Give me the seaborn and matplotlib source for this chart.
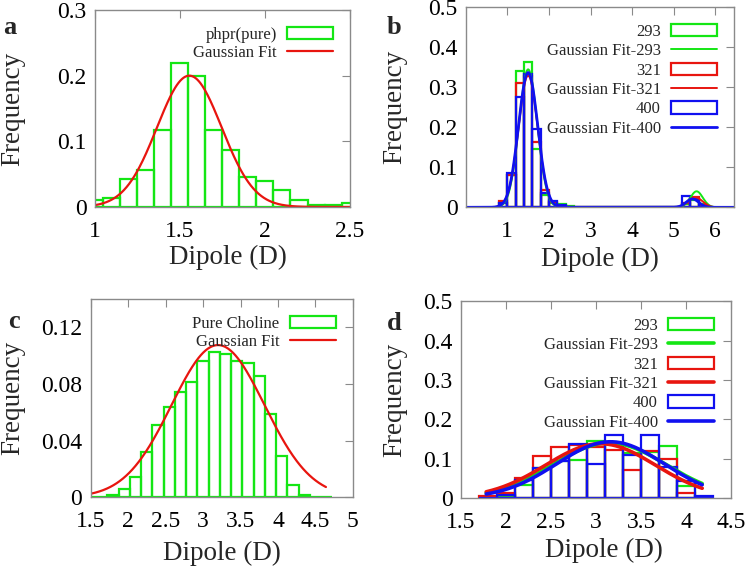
import numpy as np
import pandas as pd
import matplotlib
matplotlib.use("Agg")
import matplotlib.pyplot as plt
import seaborn as sns
from matplotlib.patches import Patch
from matplotlib.lines import Line2D
from matplotlib.ticker import FuncFormatter

# ==========================================================
# DATA
# ==========================================================

# panel a : phpr(pure)
a_centers = [1.0, 1.1, 1.2, 1.3, 1.4, 1.5, 1.6, 1.7, 1.8, 1.9, 2.0, 2.1, 2.2, 2.3, 2.4, 2.5]
a_freq = [0.010, 0.013, 0.043, 0.056, 0.117, 0.220, 0.200, 0.117, 0.087, 0.046,
          0.040, 0.026, 0.010, 0.003, 0.003, 0.006]
a_fit = [0.200, 1.555, 0.19]          # amplitude, mean, sigma

# panel b : three temperatures
b_temps = ["293", "321", "400"]
b_centers = [0.9, 1.1, 1.3, 1.5, 1.7, 1.9, 2.1, 2.3, 2.5, 2.7, 5.3, 5.5, 5.7]
b_293 = [0.012, 0.080, 0.342, 0.364, 0.145, 0.031, 0.012, 0.008, 0.003, 0.000, 0.008, 0.018, 0.008]
b_321 = [0.017, 0.081, 0.312, 0.328, 0.164, 0.043, 0.014, 0.004, 0.002, 0.002, 0.012, 0.027, 0.005]
b_400 = [0.012, 0.085, 0.277, 0.334, 0.195, 0.037, 0.017, 0.005, 0.002, 0.000, 0.028, 0.022, 0.000]
# two-peak fits: amp1, mean1, sigma1, amp2, mean2, sigma2
b_fit_293 = [0.345, 1.50, 0.22, 0.040, 5.55, 0.15]
b_fit_321 = [0.330, 1.50, 0.23, 0.025, 5.52, 0.17]
b_fit_400 = [0.337, 1.50, 0.23, 0.021, 5.45, 0.15]

# panel c : pure choline
c_centers = [1.5, 1.65, 1.8, 1.95, 2.1, 2.25, 2.4, 2.55, 2.7, 2.85, 3.0, 3.15, 3.3,
             3.45, 3.6, 3.75, 3.9, 4.05, 4.2, 4.35, 4.5, 4.65]
c_freq = [0.0, 0.0, 0.0014, 0.006, 0.0146, 0.032, 0.0508, 0.0638, 0.0744, 0.0815,
          0.0966, 0.1028, 0.1013, 0.096, 0.0945, 0.0855, 0.0586, 0.0293, 0.0085,
          0.0017, 0.0, 0.0]
c_fit = [0.1075, 3.20, 0.62]

# panel d : three temperatures
d_centers = [1.8, 2.0, 2.2, 2.4, 2.6, 2.8, 3.0, 3.2, 3.4, 3.6, 3.8, 4.0, 4.2]
d_293 = [0.000, 0.005, 0.034, 0.077, 0.093, 0.097, 0.146, 0.140, 0.114, 0.116, 0.131, 0.031, 0.000]
d_321 = [0.005, 0.012, 0.051, 0.106, 0.130, 0.134, 0.130, 0.121, 0.071, 0.120, 0.100, 0.014, 0.000]
d_400 = [0.000, 0.008, 0.047, 0.076, 0.094, 0.137, 0.087, 0.161, 0.110, 0.161, 0.078, 0.043, 0.004]
d_fit_293 = [0.140, 3.15, 0.63]
d_fit_321 = [0.138, 3.05, 0.61]
d_fit_400 = [0.143, 3.16, 0.60]

GREEN = "#14e614"
RED = "#e8150f"
BLUE = "#1010f0"
GRAY = "#8a8a8a"

# ==========================================================
# HELPERS
# ==========================================================


def gauss(x, amp, mu, sig):
    return amp * np.exp(-(x - mu) ** 2 / (2 * sig ** 2))


def edges_of(centers, width):
    c = np.asarray(centers)
    return [float(v) for v in np.append(c - width / 2, c[-1] + width / 2)]


def style_axes(ax, xlim, ylim, xticks, yticks, ylab_x, xlab_pos):
    ax.set_xlim(*xlim)
    ax.set_ylim(*ylim)
    ax.set_xticks(xticks)
    ax.set_yticks(yticks)
    fmt = FuncFormatter(lambda v, p: "%g" % round(v, 4))
    ax.xaxis.set_major_formatter(fmt)
    ax.yaxis.set_major_formatter(fmt)
    for s in ax.spines.values():
        s.set_color(GRAY)
        s.set_linewidth(1.0)
    ax.tick_params(axis="both", direction="in", length=6, width=0.8, color=GRAY,
                   top=True, right=True, labelsize=17, labelcolor="black")
    ax.tick_params(axis="x", pad=10)
    ax.tick_params(axis="y", pad=6)
    ax.set_xlabel("Dipole (D)", fontsize=19.5)
    ax.set_ylabel("Frequency", fontsize=19.5)
    ax.yaxis.set_label_coords(ylab_x, 0.5)
    ax.xaxis.set_label_coords(*xlab_pos)


def hist(ax, centers, freq, edges, color, lw=1.6):
    df = pd.DataFrame({"dipole": centers, "freq": freq})
    sns.histplot(data=df, x="dipole", weights="freq", bins=list(edges),
                 element="bars", fill=False, color=color, linewidth=lw, ax=ax)


def legend(ax, handles, labels, spacing):
    ax.legend(handles, labels, loc="upper right", frameon=False, markerfirst=False,
              fontsize=12, handlelength=2.8, handleheight=0.75, handletextpad=0.6,
              labelspacing=spacing, borderaxespad=0.6)


# ==========================================================
# FIGURE
# ==========================================================

sns.set_theme(style="white")
plt.rcParams["font.family"] = ["Liberation Serif", "DejaVu Serif"]

fig = plt.figure(figsize=(7.49, 5.68), dpi=100)

ax_a = fig.add_axes([0.1268, 0.6356, 0.3405, 0.3468])
ax_b = fig.add_axes([0.6218, 0.6350, 0.3582, 0.3520])
ax_c = fig.add_axes([0.1210, 0.1245, 0.3502, 0.3490])
ax_d = fig.add_axes([0.6155, 0.1232, 0.3605, 0.3463])

# ---------------- panel a ----------------
hist(ax_a, a_centers, a_freq, edges_of(a_centers, 0.1), GREEN)
xa = np.linspace(1.0, 2.5, 300)
sns.lineplot(x=xa, y=gauss(xa, *a_fit), color=RED, lw=1.6, ax=ax_a)
style_axes(ax_a, (1.0, 2.5), (0, 0.3), [1, 1.5, 2, 2.5], [0, 0.1, 0.2, 0.3],
           -0.275, (0.52, -0.19))
legend(ax_a,
       [Patch(facecolor="none", edgecolor=GREEN, lw=1.6), Line2D([], [], color=RED, lw=1.6)],
       ["phpr(pure)", "Gaussian Fit"], 0.15)

# ---------------- panel b ----------------
xb = np.linspace(0, 6.45, 800)
b_edges = [round(0.8 + 0.2 * i, 2) for i in range(26)]
for freq, fit, col, lw in [(b_293, b_fit_293, GREEN, 1.4), (b_321, b_fit_321, RED, 1.4),
                           (b_400, b_fit_400, BLUE, 2.0)]:
    hist(ax_b, b_centers, freq, b_edges, col)
    yb = gauss(xb, *fit[:3]) + gauss(xb, *fit[3:])
    sns.lineplot(x=xb, y=yb, color=col, lw=lw, ax=ax_b)
style_axes(ax_b, (0, 6.45), (0, 0.5), [1, 2, 3, 4, 5, 6], [0, 0.1, 0.2, 0.3, 0.4, 0.5],
           -0.219, (0.5, -0.2))
hb, lb = [], []
for t, col, lw in zip(b_temps, [GREEN, RED, BLUE], [1.4, 1.4, 2.0]):
    hb += [Patch(facecolor="none", edgecolor=col, lw=1.6), Line2D([], [], color=col, lw=lw)]
    lb += [t, "Gaussian Fit-" + t]
legend(ax_b, hb, lb, 0.2)

# ---------------- panel c ----------------
hist(ax_c, c_centers, c_freq, edges_of(c_centers, 0.15), GREEN)
xc = np.linspace(1.5, 4.64, 300)
sns.lineplot(x=xc, y=gauss(xc, *c_fit), color=RED, lw=1.6, ax=ax_c)
style_axes(ax_c, (1.5, 5.0), (0, 0.14), [1.5, 2, 2.5, 3, 3.5, 4, 4.5, 5],
           [0, 0.04, 0.08, 0.12], -0.25, (0.5, -0.22))
legend(ax_c,
       [Patch(facecolor="none", edgecolor=GREEN, lw=1.6), Line2D([], [], color=RED, lw=1.6)],
       ["Pure Choline", "Gaussian Fit"], 0.15)

# ---------------- panel d ----------------
xd = np.linspace(1.78, 4.18, 300)
for freq, fit, col in [(d_293, d_fit_293, GREEN), (d_321, d_fit_321, RED), (d_400, d_fit_400, BLUE)]:
    hist(ax_d, d_centers, freq, edges_of(d_centers, 0.2), col)
    sns.lineplot(x=xd, y=gauss(xd, *fit), color=col, lw=2.6, ax=ax_d)
style_axes(ax_d, (1.5, 4.5), (0, 0.5), [1.5, 2, 2.5, 3, 3.5, 4, 4.5],
           [0, 0.1, 0.2, 0.3, 0.4, 0.5], -0.2, (0.53, -0.2))
hd, ld = [], []
for t, col in zip(b_temps, [GREEN, RED, BLUE]):
    hd += [Patch(facecolor="none", edgecolor=col, lw=1.6), Line2D([], [], color=col, lw=2.6)]
    ld += [t, "Gaussian Fit-" + t]
legend(ax_d, hd, ld, 0.2)

# ---------------- panel letters ----------------
for txt, x, y in [("a", 0.004, 0.931), ("b", 0.516, 0.931), ("c", 0.011, 0.414), ("d", 0.517, 0.41)]:
    fig.text(x, y, txt, fontsize=19, fontweight="bold", ha="left", va="bottom")

fig.savefig("out.png", dpi=100)
